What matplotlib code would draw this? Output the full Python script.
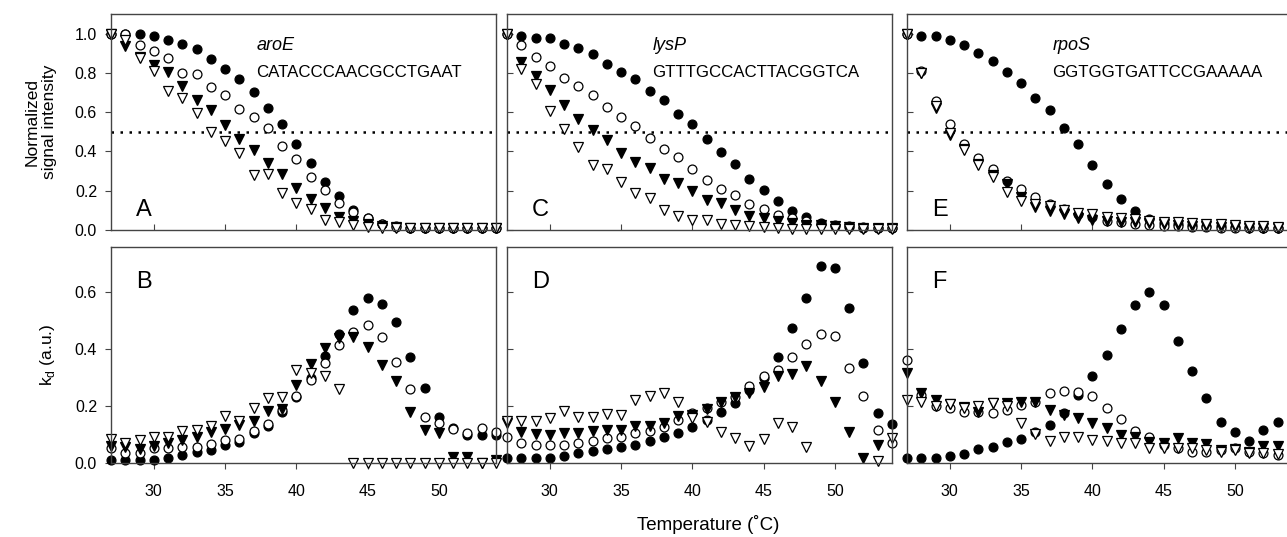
import matplotlib
matplotlib.use('Agg')
import matplotlib.pyplot as plt
import numpy as np

plt.rcParams['font.family'] = ['Liberation Sans', 'DejaVu Sans']

nan = np.nan
temps = [27, 28, 29, 30, 31, 32, 33, 34, 35, 36, 37, 38, 39, 40,
         41, 42, 43, 44, 45, 46, 47, 48, 49, 50, 51, 52, 53, 54]

genes = ['aroE', 'lysP', 'rpoS']
seqs = ['CATACCCAACGCCTGAAT', 'GTTTGCCACTTACGGTCA', 'GGTGGTGATTCCGAAAAA']
top_letters = ['A', 'C', 'E']
bot_letters = ['B', 'D', 'F']

# normalized signal intensity (top row)
aroE_fc = [1.0, 1.0, 1.0, 0.99, 0.97, 0.945, 0.92, 0.87, 0.82, 0.767, 0.704, 0.623, 0.541, 0.44,
           0.342, 0.242, 0.173, 0.10, 0.06, 0.03, 0.02, 0.01, 0.01, 0.01, 0.01, 0.01, 0.01, 0.01]
aroE_oc = [1.0, 1.0, 0.94, 0.914, 0.875, 0.80, 0.795, 0.73, 0.69, 0.616, 0.575, 0.52, 0.428, 0.362,
           0.27, 0.203, 0.135, 0.091, 0.06, 0.03, 0.017, 0.01, 0.01, 0.01, 0.01, 0.01, 0.01, 0.01]
aroE_ft = [1.0, 0.935, 0.88, 0.841, 0.804, 0.731, 0.663, 0.609, 0.533, 0.465, 0.406, 0.343, 0.284, 0.212,
           0.156, 0.11, 0.068, 0.046, 0.03, 0.02, 0.015, 0.01, 0.01, 0.01, 0.01, 0.01, 0.01, 0.01]
aroE_ot = [1.0, 0.97, 0.876, 0.81, 0.71, 0.673, 0.595, 0.50, 0.453, 0.393, 0.28, 0.284, 0.186, 0.135,
           0.105, 0.05, 0.042, 0.025, 0.017, 0.01, 0.01, 0.01, 0.01, 0.01, 0.01, 0.01, 0.01, 0.01]

lysP_fc = [1.0, 0.986, 0.978, 0.976, 0.948, 0.925, 0.897, 0.846, 0.807, 0.77, 0.706, 0.66, 0.592, 0.538,
           0.465, 0.398, 0.338, 0.262, 0.203, 0.147, 0.098, 0.064, 0.034, 0.02, 0.015, 0.01, 0.01, 0.01]
lysP_oc = [1.0, 0.944, 0.88, 0.834, 0.773, 0.731, 0.685, 0.626, 0.575, 0.528, 0.47, 0.411, 0.372, 0.313,
           0.254, 0.211, 0.178, 0.132, 0.105, 0.076, 0.059, 0.046, 0.03, 0.025, 0.02, 0.015, 0.01, 0.01]
lysP_ft = [1.0, 0.855, 0.782, 0.711, 0.638, 0.563, 0.511, 0.457, 0.394, 0.347, 0.316, 0.259, 0.24, 0.20,
           0.152, 0.139, 0.10, 0.071, 0.059, 0.047, 0.037, 0.025, 0.025, 0.02, 0.015, 0.01, 0.01, 0.01]
lysP_ot = [1.0, 0.82, 0.745, 0.604, 0.516, 0.423, 0.333, 0.313, 0.245, 0.186, 0.161, 0.10, 0.071, 0.05,
           0.05, 0.029, 0.025, 0.02, 0.017, 0.012, 0.005, 0.005, 0.005, 0.005, 0.005, 0.005, 0.005, 0.005]

rpoS_fc = [1.0, 0.986, 0.986, 0.968, 0.942, 0.90, 0.863, 0.804, 0.75, 0.673, 0.609, 0.521, 0.437, 0.33,
           0.233, 0.156, 0.098, 0.054, 0.037, 0.03, 0.025, 0.02, 0.02, 0.015, 0.015, 0.01, 0.01, 0.01]
rpoS_oc = [1.0, 0.81, 0.655, 0.538, 0.44, 0.367, 0.313, 0.249, 0.208, 0.166, 0.132, 0.105, 0.08, 0.068,
           0.046, 0.04, 0.03, 0.025, 0.02, 0.02, 0.015, 0.015, 0.01, 0.01, 0.01, 0.01, 0.01, 0.01]
rpoS_ft = [1.0, 0.80, 0.623, 0.486, 0.41, 0.338, 0.279, 0.234, 0.17, 0.118, 0.096, 0.08, 0.059, 0.05,
           0.046, 0.042, 0.042, 0.034, 0.03, 0.025, 0.02, 0.02, 0.015, 0.015, 0.01, 0.01, 0.01, 0.01]
rpoS_ot = [1.0, 0.80, 0.63, 0.494, 0.406, 0.33, 0.27, 0.195, 0.147, 0.132, 0.122, 0.10, 0.088, 0.08,
           0.068, 0.06, 0.054, 0.046, 0.042, 0.039, 0.035, 0.03, 0.03, 0.025, 0.02, 0.02, 0.015, 0.015]

# kd (bottom row)
aroE_kd_fc = [0.01, 0.01, 0.01, 0.01, 0.019, 0.028, 0.04, 0.046, 0.063, 0.075, 0.104, 0.13, 0.18, 0.233,
              0.30, 0.375, 0.453, 0.537, 0.578, 0.558, 0.496, 0.371, 0.262, 0.163, 0.122, 0.10, 0.098, 0.10]
aroE_kd_oc = [0.051, 0.036, 0.036, 0.051, 0.051, 0.055, 0.057, 0.067, 0.08, 0.084, 0.113, 0.136, 0.186, 0.235,
              0.291, 0.35, 0.414, 0.46, 0.484, 0.443, 0.356, 0.258, 0.16, 0.139, 0.12, 0.104, 0.122, 0.11]
aroE_kd_ft = [0.06, 0.055, 0.05, 0.06, 0.069, 0.081, 0.092, 0.11, 0.118, 0.133, 0.149, 0.182, 0.19, 0.274,
              0.346, 0.402, 0.44, 0.441, 0.408, 0.344, 0.289, 0.18, 0.116, 0.104, 0.022, 0.02, 0.0, 0.01]
aroE_kd_ot = [0.083, 0.071, 0.08, 0.09, 0.09, 0.112, 0.116, 0.13, 0.165, 0.149, 0.192, 0.227, 0.233, 0.326,
              0.315, 0.306, 0.258, 0.0, 0.0, 0.0, 0.0, 0.0, 0.0, 0.0, 0.0, 0.0, 0.0, 0.0]

lysP_kd_fc = [0.016, 0.016, 0.016, 0.019, 0.025, 0.036, 0.043, 0.049, 0.057, 0.063, 0.077, 0.09, 0.104, 0.127,
              0.15, 0.178, 0.209, 0.256, 0.30, 0.371, 0.473, 0.578, 0.69, 0.685, 0.545, 0.35, 0.174, 0.136]
lysP_kd_oc = [0.092, 0.069, 0.063, 0.063, 0.063, 0.071, 0.077, 0.087, 0.092, 0.104, 0.113, 0.127, 0.151, 0.174,
              0.192, 0.215, 0.233, 0.27, 0.305, 0.326, 0.371, 0.416, 0.451, 0.445, 0.335, 0.235, 0.116, 0.069]
lysP_kd_ft = [0.14, 0.11, 0.102, 0.098, 0.106, 0.106, 0.112, 0.116, 0.116, 0.13, 0.13, 0.139, 0.165, 0.168,
              0.19, 0.215, 0.233, 0.244, 0.265, 0.305, 0.312, 0.34, 0.289, 0.215, 0.11, 0.016, 0.063, nan]
lysP_kd_ot = [0.149, 0.149, 0.149, 0.157, 0.182, 0.163, 0.16, 0.171, 0.168, 0.221, 0.236, 0.247, 0.215, 0.157,
              0.145, 0.11, 0.087, 0.06, 0.083, 0.139, 0.125, 0.057, nan, nan, nan, nan, 0.008, 0.087]

rpoS_kd_fc = [0.016, 0.016, 0.016, 0.025, 0.032, 0.049, 0.057, 0.073, 0.084, 0.108, 0.133, 0.177, 0.24, 0.306,
              0.379, 0.469, 0.554, 0.599, 0.554, 0.429, 0.324, 0.227, 0.145, 0.108, 0.078, 0.116, 0.145, 0.122]
rpoS_kd_oc = [0.361, 0.239, 0.20, 0.192, 0.18, 0.18, 0.177, 0.186, 0.204, 0.213, 0.247, 0.254, 0.25, 0.236,
              0.194, 0.154, 0.113, 0.09, 0.063, 0.051, 0.04, 0.04, 0.046, 0.051, 0.04, 0.034, 0.028, 0.03]
rpoS_kd_ft = [0.317, 0.247, 0.221, 0.207, 0.195, 0.18, 0.21, 0.212, 0.215, 0.215, 0.186, 0.17, 0.157, 0.141,
              0.122, 0.098, 0.092, 0.075, 0.07, 0.087, 0.069, 0.065, 0.046, 0.05, 0.04, 0.058, 0.058, 0.05]
rpoS_kd_ot = [0.221, 0.215, 0.20, 0.207, 0.192, 0.20, 0.21, 0.20, 0.139, 0.102, 0.078, 0.09, 0.092, 0.081,
              0.077, 0.071, 0.069, 0.051, 0.051, 0.051, 0.051, 0.045, 0.04, 0.045, 0.035, 0.035, 0.03, 0.03]

melt = [(aroE_fc, aroE_oc, aroE_ft, aroE_ot),
        (lysP_fc, lysP_oc, lysP_ft, lysP_ot),
        (rpoS_fc, rpoS_oc, rpoS_ft, rpoS_ot)]
kd = [(aroE_kd_fc, aroE_kd_oc, aroE_kd_ft, aroE_kd_ot),
      (lysP_kd_fc, lysP_kd_oc, lysP_kd_ft, lysP_kd_ot),
      (rpoS_kd_fc, rpoS_kd_oc, rpoS_kd_ft, rpoS_kd_ot)]

W, H = 1287, 537
fig = plt.figure(figsize=(W / 100, H / 100), dpi=100)

col_x = [111, 507, 907]
col_w = 385
spine_col = '#444444'


def make_ax(x0, y_top, y_bot):
    return fig.add_axes([x0 / W, 1 - y_bot / H, col_w / W, (y_bot - y_top) / H])


def draw_points(ax, series):
    fc, oc, ft, ot = series
    kw = dict(ls='none', mec='k', mew=0.9, clip_on=False)
    ax.plot(temps, fc, 'o', ms=6.4, mfc='k', **kw)
    ax.plot(temps, oc, 'o', ms=6.4, mfc='white', **kw)
    ax.plot(temps, ft, 'v', ms=7.0, mfc='k', **kw)
    ax.plot(temps, ot, 'v', ms=7.0, mfc='white', **kw)


def style(ax, first, bottom_row):
    for s in ax.spines.values():
        s.set_color(spine_col)
        s.set_linewidth(1.0)
    ax.set_xlim(27, 54)
    ax.set_xticks([30, 35, 40, 45, 50])
    if bottom_row:
        ax.tick_params(axis='x', direction='out', length=4, pad=11, labelsize=11.5, color=spine_col)
    else:
        ax.tick_params(axis='x', direction='in', length=4, labelbottom=False, color=spine_col)
    ax.tick_params(axis='y', direction='out' if first else 'in', length=4, pad=6,
                   labelsize=11.5, labelleft=first, color=spine_col)


for i in range(3):
    ax = make_ax(col_x[i], 14, 230)
    ax.axhline(0.5, color='k', lw=1.8, ls=(0, (1, 2.6)), zorder=1)
    draw_points(ax, melt[i])
    ax.set_ylim(0, 1.1)
    ax.set_yticks([0.0, 0.2, 0.4, 0.6, 0.8, 1.0])
    ax.yaxis.set_major_formatter(matplotlib.ticker.FormatStrFormatter('%.1f'))
    style(ax, i == 0, False)
    ax.text(37.2, 0.94, genes[i], style='italic', fontsize=13, va='center', ha='left')
    ax.text(37.2, 0.80, seqs[i], fontsize=12.2, va='center', ha='left')
    ax.text(0.065, 0.093, top_letters[i], transform=ax.transAxes, fontsize=17, va='center', ha='left')
    if i == 0:
        ax.set_ylabel('Normalized\nsignal intensity', fontsize=12.5, labelpad=13)

    ax2 = make_ax(col_x[i], 247, 463)
    draw_points(ax2, kd[i])
    ax2.set_ylim(0, 0.758)
    ax2.set_yticks([0.0, 0.2, 0.4, 0.6])
    ax2.yaxis.set_major_formatter(matplotlib.ticker.FormatStrFormatter('%.1f'))
    style(ax2, i == 0, True)
    ax2.text(0.065, 0.838, bot_letters[i], transform=ax2.transAxes, fontsize=17, va='center', ha='left')
    if i == 0:
        ax2.set_ylabel(r'k$_\mathregular{d}$ (a.u.)', fontsize=12.5, labelpad=13)

fig.text(708 / W, 1 - 524 / H, 'Temperature (˚C)', fontsize=13.5, ha='center', va='center')

fig.savefig('out.png', dpi=100)
